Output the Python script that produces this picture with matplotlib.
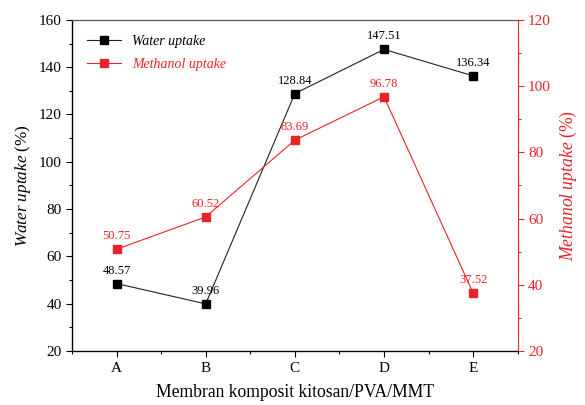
import matplotlib
matplotlib.use("Agg")
import matplotlib.pyplot as plt
from matplotlib.ticker import MultipleLocator

plt.rcParams['font.family'] = ['Liberation Serif', 'DejaVu Serif']
plt.rcParams['mathtext.fontset'] = 'custom'
plt.rcParams['mathtext.rm'] = 'Liberation Serif'
plt.rcParams['mathtext.it'] = 'Liberation Serif:italic'

categories = ['A', 'B', 'C', 'D', 'E']
water_uptake = [48.57, 39.96, 128.84, 147.51, 136.34]
methanol_uptake = [50.75, 60.52, 83.69, 96.78, 37.52]

red = '#e8232a'
xpos = list(range(1, len(categories) + 1))

fig = plt.figure(figsize=(5.85, 4.05), dpi=100)
ax = fig.add_axes([0.123, 0.133, 0.762, 0.818])
ax2 = ax.twinx()

l1, = ax.plot(xpos, water_uptake, color='#222222', lw=0.8, marker='s', ms=5.5,
              mfc='black', mec='black', label='Water uptake')
l2, = ax2.plot(xpos, methanol_uptake, color=red, lw=0.8, marker='s', ms=5.5,
               mfc=red, mec=red, label='Methanol uptake')

for x, v in zip(xpos, water_uptake):
    ax.annotate(f"{v:.2f}", (x, v), xytext=(0, 5), textcoords='offset points',
                ha='center', va='bottom', fontsize=9, color='black')
for x, v in zip(xpos, methanol_uptake):
    ax2.annotate(f"{v:.2f}", (x, v), xytext=(0, 5), textcoords='offset points',
                 ha='center', va='bottom', fontsize=9, color=red)

ax.set_xlim(0.5, 5.5)
ax.set_ylim(20, 160)
ax2.set_ylim(20, 120)
ax.set_xticks(xpos)
ax.set_xticklabels(categories)
ax.xaxis.set_minor_locator(MultipleLocator(0.5))
ax.yaxis.set_major_locator(MultipleLocator(20))
ax.yaxis.set_minor_locator(MultipleLocator(10))
ax2.yaxis.set_major_locator(MultipleLocator(20))
ax2.yaxis.set_minor_locator(MultipleLocator(10))

ax.tick_params(axis='both', which='major', direction='out', length=4, width=0.8, labelsize=11)
ax.tick_params(axis='both', which='minor', direction='out', length=2, width=0.8)
ax2.tick_params(axis='y', which='major', direction='out', length=4, width=0.8,
                labelsize=11, colors=red)
ax2.tick_params(axis='y', which='minor', direction='out', length=2, width=0.8, colors=red)
ax2.spines['right'].set_color(red)
for s in ['left', 'bottom']:
    ax.spines[s].set_linewidth(0.9)
ax.spines['top'].set_color('#555555')
ax2.spines['top'].set_color('#555555')
ax.spines['right'].set_visible(False)

ax.set_xlabel('Membran komposit kitosan/PVA/MMT', fontsize=12.7, labelpad=7)
ax.set_ylabel(r'$\it{Water\ uptake}$ (%)', fontsize=12.3, labelpad=4)
ax2.set_ylabel(r'$\it{Methanol\ uptake}$ (%)', fontsize=12.7, color=red, labelpad=5)

leg = ax.legend([l1, l2], ['Water uptake', 'Methanol uptake'], loc='upper left',
                frameon=False, prop={'style': 'italic', 'size': 10},
                handlelength=2.4, borderaxespad=0.7, labelspacing=0.7)
leg.get_texts()[1].set_color(red)

fig.savefig('out.png', dpi=100)
